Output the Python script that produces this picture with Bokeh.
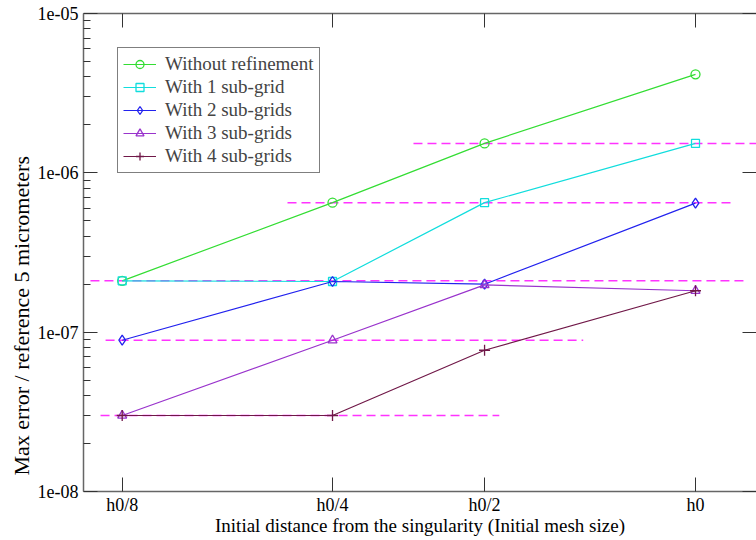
from bokeh.plotting import figure
from bokeh.models import (Range1d, LogAxis, LinearAxis, FixedTicker,
                          CustomJSTickFormatter, Legend, LegendItem, Title)
from bokeh.embed import file_html
from bokeh.resources import INLINE

# ---- data ----
x_labels = ["h0/8", "h0/4", "h0/2", "h0"]
x_pos = [1.0, 2.0, 2.723, 3.726]

without_ref = [2.1e-7, 6.5e-7, 1.53e-6, 4.15e-6]
sub_grid_1 = [2.1e-7, 2.08e-7, 6.5e-7, 1.53e-6]
sub_grid_2 = [8.9e-8, 2.08e-7, 2.0e-7, 6.45e-7]
sub_grid_3 = [3.0e-8, 8.9e-8, 1.98e-7, 1.82e-7]
sub_grid_4 = [3.0e-8, 3.0e-8, 7.7e-8, 1.82e-7]

series_names = ["Without refinement", "With 1 sub-grid", "With 2 sub-grids",
                "With 3 sub-grids", "With 4 sub-grids"]

# horizontal dashed reference levels
ref_y = [1.53e-6, 6.5e-7, 2.1e-7, 8.9e-8, 3.0e-8]
ref_x0 = [2.385, 1.786, 0.849, 0.921, 0.897]
ref_x1 = [4.05, 3.896, 3.977, 3.192, 2.793]

y_major = [1e-8, 1e-7, 1e-6, 1e-5]
y_minor = [m * 10.0 ** d for d in (-8, -7, -6) for m in range(2, 10)]

FONT = "Liberation Serif"

p = figure(width=756, height=540, y_axis_type="log",
           x_range=Range1d(0.816, 4.016), y_range=Range1d(1e-8, 1e-5),
           output_backend="svg", toolbar_location=None,
           min_border_left=83, min_border_top=13, min_border_bottom=49,
           min_border_right=0)
p.outline_line_color = None
p.grid.visible = False
p.background_fill_color = "white"

xfmt = CustomJSTickFormatter(args=dict(pos=x_pos, labels=x_labels), code="""
const i = pos.findIndex(v => Math.abs(v - tick) < 1e-6);
return i >= 0 ? labels[i] : '';
""")
yfmt = CustomJSTickFormatter(code="""
const e = Math.round(Math.log10(tick));
const a = Math.abs(e);
return '1e' + (e < 0 ? '-' : '+') + (a < 10 ? '0' + a : '' + a);
""")
blankfmt = CustomJSTickFormatter(code="return '';")

xt = FixedTicker(ticks=x_pos)
yt = FixedTicker(ticks=y_major, minor_ticks=y_minor)

AX_COL = "#666666"
TK_COL = "#333333"

def style(ax):
    ax.axis_line_color = AX_COL
    ax.axis_line_width = 1.5
    ax.major_tick_line_color = TK_COL
    ax.minor_tick_line_color = TK_COL
    ax.major_tick_out = 0
    ax.major_tick_in = 14
    ax.minor_tick_out = 0
    ax.major_label_text_font = FONT
    ax.major_label_text_font_size = "18px"
    ax.major_label_text_color = "black"
    ax.axis_label_text_font = FONT
    ax.axis_label_text_font_size = "19px"
    ax.axis_label_text_font_style = "normal"
    ax.axis_label_text_color = "black"

bx = p.xaxis[0]
bx.ticker = xt
bx.formatter = xfmt
style(bx)
bx.minor_tick_in = 0
bx.major_label_standoff = 3
bx.axis_label_standoff = -3
bx.axis_label = "Initial distance from the singularity (Initial mesh size)"

ly = p.yaxis[0]
ly.ticker = yt
ly.formatter = yfmt
style(ly)
ly.minor_tick_in = 7
ly.major_label_standoff = 5

ytitle = Title(text="Max error / reference 5 micrometers", align="left",
               offset=16, text_font=FONT, text_font_size="22px",
               text_font_style="normal", text_color="black", standoff=2)
p.add_layout(ytitle, "left")

tx = LinearAxis(ticker=xt, formatter=blankfmt)
style(tx)
tx.minor_tick_in = 0
tx.major_label_text_font_size = "0px"
tx.major_label_standoff = 0
p.add_layout(tx, "above")

ry = LogAxis(ticker=FixedTicker(ticks=y_major), formatter=blankfmt)
style(ry)
ry.minor_tick_in = 0
ry.axis_line_color = None
ry.major_label_text_font_size = "0px"
ry.major_label_standoff = 0
p.add_layout(ry, "right")

# reference dashed lines
p.segment(x0=ref_x0, y0=ref_y, x1=ref_x1, y1=ref_y, line_color="#ff33ff",
          line_width=1.5, line_dash="9 5")

colors = ["#33dd33", "#11dddd", "#2222ee", "#9933cc", "#701848"]
markers = ["circle", "square", "diamond", "triangle", "cross"]
sizes = [9, 8, 10, 9, 11]
data = [without_ref, sub_grid_1, sub_grid_2, sub_grid_3, sub_grid_4]

items = []
for name, ys, c, m, s in zip(series_names, data, colors, markers, sizes):
    l = p.line(x_pos, ys, line_color=c, line_width=1.2)
    sc = p.scatter(x_pos, ys, marker=m, size=s, line_color=c, fill_color=None,
                   line_width=1.3)
    items.append(LegendItem(label=name, renderers=[l, sc]))

legend = Legend(items=items, location="top_left", margin=34,
                border_line_color="black", border_line_width=1.2,
                padding=5, spacing=1, glyph_width=33, glyph_height=20,
                label_height=20, label_standoff=9,
                label_text_font=FONT, label_text_font_size="19px",
                background_fill_alpha=1.0)
p.add_layout(legend, "center")

open("out.html", "w").write(file_html(p, INLINE))
